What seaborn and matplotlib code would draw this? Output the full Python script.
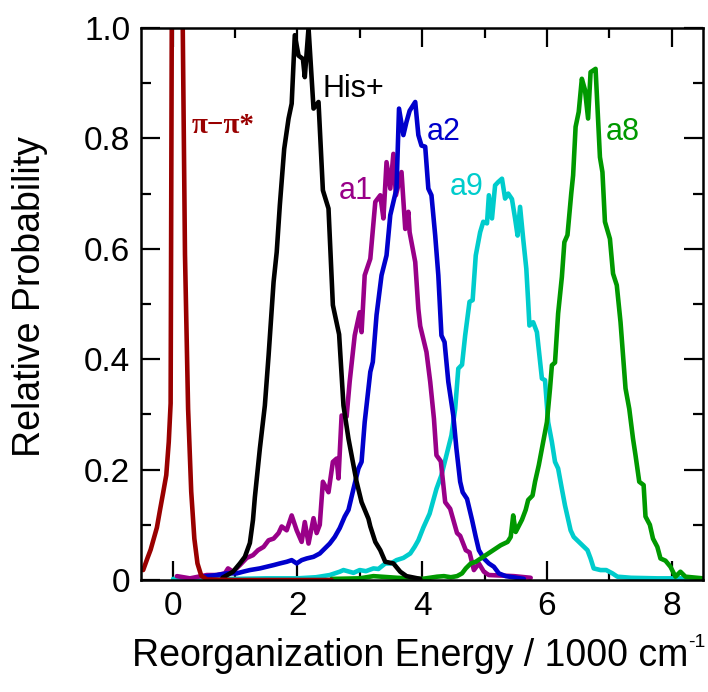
import numpy as np
import pandas as pd
import matplotlib
matplotlib.use("Agg")
import matplotlib.pyplot as plt
import seaborn as sns
from matplotlib.ticker import MultipleLocator, FuncFormatter

sns.set_theme(style="ticks")
plt.rcParams['font.family'] = ['Liberation Sans', 'DejaVu Sans']

# ---------------- data ----------------
pipi_x = [-0.47, -0.40, -0.35, -0.30, -0.25, -0.20, -0.15, -0.10, -0.06, -0.03, 0.02, 0.07, 0.12,
          0.16, 0.20, 0.25, 0.30, 0.35, 0.40, 0.46, 0.55, 1.00, 1.50, 2.00, 2.55]
pipi_y = [0.018, 0.040, 0.055, 0.075, 0.095, 0.127, 0.158, 0.190, 0.250, 0.320, 2.2, 3.0, 2.4,
          1.05, 0.59, 0.31, 0.16, 0.075, 0.030, 0.008, 0.001, 0.0, 0.0, 0.0, 0.0]

his_x = [0.80, 0.97, 1.08, 1.16, 1.24, 1.29, 1.32, 1.40, 1.48, 1.54, 1.62, 1.67, 1.72, 1.79, 1.86,
         1.91, 1.96, 2.02, 2.09, 2.12, 2.18, 2.26, 2.34, 2.41, 2.50, 2.57, 2.67, 2.74, 2.82, 2.95,
         3.03, 3.14, 3.17, 3.25, 3.33, 3.41, 3.54, 3.65, 3.75, 3.97]
his_y = [0.004, 0.015, 0.030, 0.042, 0.067, 0.109, 0.150, 0.238, 0.316, 0.407, 0.540, 0.594, 0.679,
         0.781, 0.836, 0.863, 0.987, 0.950, 0.944, 0.911, 1.000, 0.854, 0.866, 0.706, 0.673, 0.498,
         0.445, 0.316, 0.256, 0.178, 0.141, 0.111, 0.097, 0.069, 0.054, 0.033, 0.030, 0.015, 0.007,
         0.002]

a1_x = [0.07, 0.28, 0.55, 0.71, 0.84, 0.89, 0.97, 1.08, 1.19, 1.29, 1.37, 1.46, 1.54, 1.62, 1.70,
        1.75, 1.83, 1.91, 1.99, 2.07, 2.12, 2.18, 2.26, 2.31, 2.36, 2.41, 2.50, 2.57, 2.63, 2.66,
        2.71, 2.79, 2.84, 2.92, 3.00, 3.03, 3.08, 3.17, 3.25, 3.33, 3.38, 3.43, 3.49, 3.54, 3.58,
        3.67, 3.73, 3.78, 3.80, 3.89, 3.94, 3.97, 4.07, 4.13, 4.19, 4.23, 4.30, 4.37, 4.45, 4.51,
        4.56, 4.61, 4.70, 4.76, 4.83, 4.91, 4.99, 5.07, 5.47, 5.74]
a1_y = [0.007, 0.003, 0.009, 0.009, 0.012, 0.021, 0.015, 0.027, 0.040, 0.045, 0.054, 0.060, 0.072,
        0.075, 0.085, 0.097, 0.090, 0.117, 0.090, 0.069, 0.105, 0.066, 0.112, 0.085, 0.100, 0.178,
        0.159, 0.214, 0.220, 0.184, 0.298, 0.296, 0.360, 0.443, 0.485, 0.449, 0.552, 0.582, 0.685,
        0.697, 0.655, 0.757, 0.709, 0.772, 0.697, 0.739, 0.636, 0.667, 0.630, 0.576, 0.491, 0.460,
        0.413, 0.359, 0.292, 0.226, 0.215, 0.141, 0.129, 0.105, 0.085, 0.080, 0.054, 0.050, 0.018,
        0.030, 0.015, 0.009, 0.007, 0.004]

a2_x = [0.49, 0.71, 0.87, 1.03, 1.13, 1.24, 1.40, 1.51, 1.62, 1.72, 1.83, 1.91, 1.99, 2.07, 2.15,
        2.26, 2.36, 2.44, 2.52, 2.60, 2.68, 2.76, 2.82, 2.90, 2.98, 3.03, 3.08, 3.17, 3.21, 3.27,
        3.35, 3.43, 3.49, 3.54, 3.59, 3.63, 3.70, 3.75, 3.80, 3.89, 3.94, 3.99, 4.05, 4.10, 4.15,
        4.21, 4.26, 4.31, 4.36, 4.42, 4.50, 4.55, 4.61, 4.65, 4.72, 4.80, 4.86, 4.91, 4.99, 5.07,
        5.15, 5.23, 5.34, 5.63]
a2_y = [0.006, 0.009, 0.012, 0.012, 0.015, 0.018, 0.021, 0.024, 0.027, 0.030, 0.033, 0.036, 0.030,
        0.036, 0.039, 0.042, 0.048, 0.057, 0.066, 0.078, 0.094, 0.115, 0.127, 0.165, 0.202, 0.214,
        0.286, 0.377, 0.395, 0.480, 0.552, 0.588, 0.661, 0.685, 0.709, 0.854, 0.806, 0.830, 0.850,
        0.866, 0.806, 0.787, 0.785, 0.709, 0.697, 0.624, 0.552, 0.443, 0.431, 0.359, 0.298, 0.238,
        0.178, 0.159, 0.147, 0.109, 0.078, 0.054, 0.039, 0.030, 0.024, 0.012, 0.007, 0.002]

a9_x = [0.01, 0.50, 1.00, 1.50, 2.00, 2.30, 2.52, 2.68, 2.74, 2.90, 3.00, 3.10, 3.22, 3.30, 3.41,
        3.50, 3.59, 3.70, 3.81, 3.88, 3.94, 4.02, 4.12, 4.23, 4.31, 4.39, 4.47, 4.53, 4.58, 4.64,
        4.69, 4.76, 4.81, 4.86, 4.93, 4.98, 5.04, 5.07, 5.12, 5.17, 5.22, 5.28, 5.33, 5.38, 5.44,
        5.49, 5.53, 5.57, 5.62, 5.67, 5.70, 5.72, 5.78, 5.84, 5.88, 5.92, 5.97, 6.02, 6.08, 6.13,
        6.18, 6.24, 6.29, 6.33, 6.38, 6.43, 6.54, 6.65, 6.70, 6.75, 6.86, 6.95, 7.05, 7.13, 7.35,
        7.77, 8.50]
a9_y = [0.002, 0.002, 0.002, 0.003, 0.003, 0.005, 0.009, 0.015, 0.018, 0.013, 0.018, 0.016, 0.021,
        0.020, 0.030, 0.030, 0.036, 0.040, 0.048, 0.060, 0.072, 0.095, 0.120, 0.165, 0.190, 0.226,
        0.262, 0.310, 0.383, 0.390, 0.443, 0.504, 0.507, 0.588, 0.630, 0.649, 0.646, 0.697, 0.655,
        0.715, 0.721, 0.727, 0.691, 0.700, 0.690, 0.655, 0.624, 0.676, 0.618, 0.564, 0.504, 0.461,
        0.467, 0.449, 0.407, 0.365, 0.362, 0.286, 0.250, 0.214, 0.202, 0.165, 0.135, 0.115, 0.090,
        0.078, 0.066, 0.054, 0.039, 0.021, 0.018, 0.018, 0.012, 0.006, 0.004, 0.003, 0.003]

a8_x = [2.55, 3.00, 3.22, 3.60, 4.00, 4.24, 4.35, 4.46, 4.56, 4.64, 4.70, 4.78, 4.86, 4.94, 5.02,
        5.10, 5.18, 5.26, 5.37, 5.42, 5.46, 5.50, 5.60, 5.66, 5.70, 5.77, 5.81, 5.87, 5.94, 6.00,
        6.05, 6.08, 6.13, 6.18, 6.24, 6.28, 6.33, 6.39, 6.42, 6.46, 6.51, 6.56, 6.61, 6.66, 6.70,
        6.78, 6.85, 6.89, 6.93, 7.01, 7.06, 7.12, 7.18, 7.26, 7.32, 7.38, 7.42, 7.48, 7.55, 7.58,
        7.65, 7.70, 7.77, 7.82, 7.90, 7.98, 8.06, 8.14, 8.22, 8.50]
a8_y = [0.002, 0.003, 0.007, 0.004, 0.002, 0.006, 0.007, 0.005, 0.007, 0.012, 0.021, 0.030, 0.033,
        0.039, 0.045, 0.051, 0.057, 0.063, 0.069, 0.078, 0.117, 0.087, 0.109, 0.127, 0.145, 0.153,
        0.178, 0.208, 0.250, 0.286, 0.347, 0.389, 0.394, 0.483, 0.549, 0.612, 0.625, 0.700, 0.733,
        0.821, 0.848, 0.908, 0.888, 0.836, 0.920, 0.926, 0.766, 0.739, 0.649, 0.618, 0.555, 0.534,
        0.467, 0.347, 0.310, 0.256, 0.226, 0.178, 0.172, 0.115, 0.100, 0.075, 0.060, 0.039, 0.035,
        0.024, 0.006, 0.015, 0.006, 0.003]

series_names = ["a9", "a1", "a2", "a8", "His+", "pipi"]
series_colors = {"pipi": "#990000", "His+": "#000000", "a1": "#990088",
                 "a2": "#0000CC", "a9": "#00CCCC", "a8": "#009900"}
series_data = {"pipi": (pipi_x, pipi_y), "His+": (his_x, his_y), "a1": (a1_x, a1_y),
               "a2": (a2_x, a2_y), "a9": (a9_x, a9_y), "a8": (a8_x, a8_y)}

label_texts = ["π−π*", "His+", "a1", "a2", "a9", "a8"]
label_keys = ["pipi", "His+", "a1", "a2", "a9", "a8"]
label_x = [0.31, 2.41, 2.67, 4.07, 4.44, 6.95]
label_y = [0.809, 0.875, 0.691, 0.797, 0.697, 0.797]

x_ticks = [0, 2, 4, 6, 8]
y_tick_labels = ["0", "0.2", "0.4", "0.6", "0.8", "1.0"]

frames = []
for name in series_names:
    xs, ys = series_data[name]
    frames.append(pd.DataFrame({"energy": xs, "prob": ys, "series": name}))
df = pd.concat(frames, ignore_index=True)

# ---------------- figure ----------------
fig = plt.figure(figsize=(7.08, 6.92), dpi=100)
ax = fig.add_axes([141.3 / 708, 1 - 580 / 692, 561.6 / 708, 552 / 692])

for name in series_names:
    sub = df[df["series"] == name]
    sns.lineplot(data=sub, x="energy", y="prob", color=series_colors[name], lw=3.3,
                 estimator=None, sort=False, legend=False, ax=ax)

ax.set_xlim(-0.5, 8.5)
ax.set_ylim(0, 1.0)

ax.xaxis.set_major_locator(MultipleLocator(2))
ax.xaxis.set_minor_locator(MultipleLocator(1))
ax.yaxis.set_major_locator(MultipleLocator(0.2))
ax.yaxis.set_minor_locator(MultipleLocator(0.1))
ax.xaxis.set_major_formatter(FuncFormatter(lambda v, p: f"{v:.0f}"))
ax.yaxis.set_major_formatter(FuncFormatter(
    lambda v, p: y_tick_labels[int(round(v / 0.2))] if 0 <= round(v / 0.2) < len(y_tick_labels) else ""))

ax.tick_params(which="both", direction="in", top=True, right=True, width=1.6, color="black")
ax.tick_params(which="major", length=13.5, pad=8, labelsize=24, labelcolor="black")
ax.tick_params(which="minor", length=7)
for sp in ax.spines.values():
    sp.set_linewidth(1.8)
    sp.set_color("black")

for txt, key, tx, ty in zip(label_texts, label_keys, label_x, label_y):
    if key == "pipi":
        ax.text(tx, ty, txt, color=series_colors[key], fontsize=21, fontweight="bold",
                family=["Liberation Serif", "DejaVu Serif"], ha="left", va="baseline")
    else:
        ax.text(tx, ty, txt, color=series_colors[key], fontsize=22, ha="left", va="baseline")

xl = ax.set_xlabel("Reorganization Energy / 1000 cm", fontsize=27, color="black")
ax.xaxis.set_label_coords(0.478, -0.105)
ax.set_ylabel("Relative Probability", fontsize=27, color="black")
ax.yaxis.set_label_coords(-0.166, 0.514)
ax.annotate("-1", xy=(1, 1), xycoords=xl, xytext=(0, -3), textcoords="offset points",
            ha="left", va="center", fontsize=14, color="black", annotation_clip=False)

fig.savefig("out.png", dpi=100)
